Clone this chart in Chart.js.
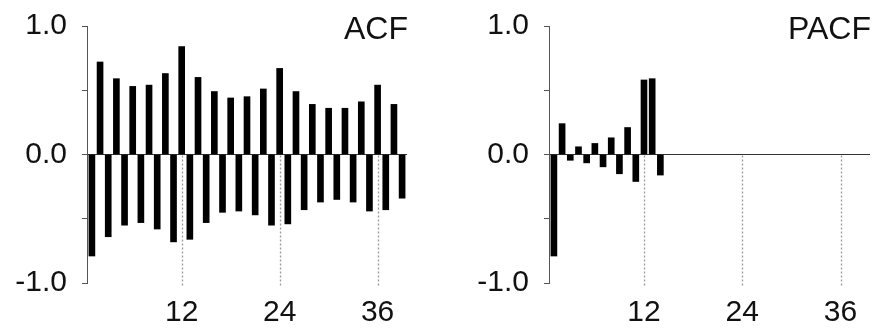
<!DOCTYPE html>
<html><head><meta charset="utf-8">
<script src="https://cdn.jsdelivr.net/npm/chart.js@4.4.1/dist/chart.umd.min.js"></script>
<style>
html,body{margin:0;padding:0;background:#fff;overflow:hidden}
#wrap{position:relative;width:874px;height:336px}
.box{position:absolute;top:0;height:336px}
#b1{left:0;width:437px}
#b2{left:462px;width:412px}
</style></head><body>
<div id="wrap"><div class="box" id="b1"><canvas id="c1"></canvas></div><div class="box" id="b2"><canvas id="c2"></canvas></div></div>
<script>
const acfLags = [1,2,3,4,5,6,7,8,9,10,11,12,13,14,15,16,17,18,19,20,21,22,23,24,25,26,27,28,29,30,31,32,33,34,35,36,37,38,39];
const acfValues = [-0.79,0.72,-0.64,0.59,-0.55,0.53,-0.53,0.54,-0.58,0.63,-0.68,0.84,-0.66,0.60,-0.53,0.49,-0.45,0.44,-0.44,0.45,-0.47,0.51,-0.55,0.67,-0.54,0.49,-0.43,0.39,-0.37,0.36,-0.35,0.36,-0.37,0.41,-0.44,0.54,-0.43,0.39,-0.34];
const pacfLags = [1,2,3,4,5,6,7,8,9,10,11,12,13,14];
const pacfValues = [-0.79,0.24,-0.045,0.06,-0.065,0.086,-0.096,0.13,-0.15,0.21,-0.21,0.58,0.59,-0.16];
const xTickValues = [12,24,36];
const yTickValues = [-1,-0.5,0,0.5,1];
const yTickLabels = {'-1':'-1.0','0':'0.0','1':'1.0'};

Chart.defaults.font.family = '"Liberation Sans", Arial, sans-serif';
Chart.defaults.color = '#111';

const seasonLines = {
  id: 'seasonLines',
  beforeDatasetsDraw(chart) {
    const {ctx, scales: {x, y}} = chart;
    ctx.save();
    ctx.strokeStyle = '#999';
    ctx.lineWidth = 1.3;
    ctx.setLineDash([2, 2]);
    xTickValues.forEach(v => {
      const px = Math.round(x.getPixelForValue(v)) + 0.5;
      ctx.beginPath();
      ctx.moveTo(px, y.getPixelForValue(0) + 1);
      ctx.lineTo(px, y.getPixelForValue(-1) + 4);
      ctx.stroke();
    });
    ctx.restore();
  }
};
const panelLabel = {
  id: 'panelLabel',
  afterDraw(chart, args, opts) {
    const {ctx, chartArea} = chart;
    ctx.save();
    ctx.font = '32px "Liberation Sans", Arial, sans-serif';
    ctx.fillStyle = '#111';
    ctx.textAlign = 'right';
    ctx.textBaseline = 'alphabetic';
    ctx.fillText(opts.text, chartArea.right + 1, 39);
    ctx.restore();
  }
};

function makeChart(id, lags, values, label, padRight) {
  return new Chart(document.getElementById(id), {
    type: 'bar',
    data: {
      datasets: [{
        data: lags.map((l, i) => ({x: l, y: values[i]})),
        backgroundColor: '#000',
        borderWidth: 0,
        barThickness: 6
      }]
    },
    plugins: [seasonLines, panelLabel],
    options: {
      responsive: true,
      maintainAspectRatio: false,
      animation: false,
      layout: {padding: {top: 26, right: padRight, left: 0, bottom: 0}},
      plugins: {legend: {display: false}, tooltip: {enabled: false}, panelLabel: {text: label}},
      scales: {
        x: {
          type: 'linear', min: 0.4, max: 39.6, offset: false,
          afterBuildTicks: s => { s.ticks = xTickValues.map(v => ({value: v})); },
          afterFit: s => { s.height = 53; s.paddingLeft = 0; s.paddingRight = 0; },
          grid: {display: false, drawTicks: false, offset: false},
          border: {display: false},
          ticks: {font: {size: 30}, color: '#111', padding: 12, maxRotation: 0, autoSkip: false}
        },
        y: {
          min: -1, max: 1,
          afterBuildTicks: s => { s.ticks = yTickValues.map(v => ({value: v})); },
          afterFit: s => { s.width = 87; s.paddingTop = 0; s.paddingBottom = 0; },
          grid: {
            color: c => (c.tick && c.tick.value === 0) ? '#333' : 'rgba(0,0,0,0)',
            tickColor: '#555', tickLength: 5, lineWidth: 1
          },
          border: {color: '#555', width: 1},
          ticks: {font: {size: 30}, color: '#111', padding: 15, callback: v => yTickLabels[String(v)] || ''}
        }
      }
    }
  });
}
makeChart('c1', acfLags, acfValues, 'ACF', 30);
makeChart('c2', pacfLags, pacfValues, 'PACF', 4);
</script>
</body></html>
